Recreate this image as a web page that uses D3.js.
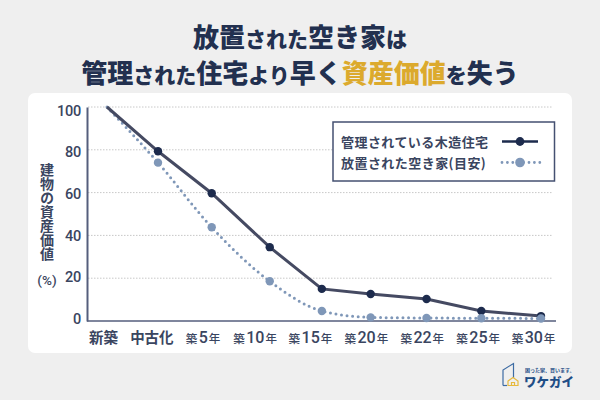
<!DOCTYPE html>
<html>
<head>
<meta charset="utf-8">
<script src="https://cdn.jsdelivr.net/npm/d3@7"></script>
<style>
  html, body { margin: 0; padding: 0; background: #efefef; }
  svg { display: block; }
  text { font-family: "Noto Sans CJK JP", sans-serif; }
  .num { font-family: "Roboto", "Noto Sans CJK JP", sans-serif; }
</style>
</head>
<body>
<div class="chart"></div>
<script>
// DATA
const CATEGORIES = ["新築", "中古化", "築5年", "築10年", "築15年", "築20年", "築22年", "築25年", "築30年"];
// the points are not evenly spaced in the picture, so keep their slots
const POINT_SLOTS = [0, 0.94, 1.93, 3, 3.96, 4.86, 5.89, 6.9, 8];
const LABEL_SLOTS = [0, 0.9, 1.85, 2.82, 3.85, 4.89, 5.93, 6.97, 8];
const MANAGED = [100, 79.3, 59.7, 34.5, 15, 12.6, 10.3, 4.7, 2.3];
const NEGLECTED = [100, 74, 43.8, 18.6, 4.7, 1.7, 1.4, 1.3, 1.2];
const Y_TICKS = [0, 20, 40, 60, 80, 100];
const SERIES_NAMES = ["管理されている木造住宅", "放置された空き家(目安)"];

// GLOBAL CONSTANTS
const FRAME_WIDTH = 600;
const FRAME_HEIGHT = 400;
const NAVY = "#22304f";
const TEXT_COL = "#3a4560";
const AXIS_COL = "#555e7c";
const LINE_COL = "#454a62";
const DOT_COL = "#7f97b8";

const FRAME = d3.select(".chart")
  .append("svg")
    .attr("width", FRAME_WIDTH)
    .attr("height", FRAME_HEIGHT);

FRAME.append("rect")
  .attr("width", FRAME_WIDTH).attr("height", FRAME_HEIGHT)
  .attr("fill", "#efefef");

FRAME.append("rect")
  .attr("x", 28).attr("y", 93)
  .attr("width", 544).attr("height", 260)
  .attr("rx", 7)
  .attr("fill", "#fff");

// TITLE
function titleLine(y, parts) {
  const t = FRAME.append("text")
    .attr("x", 300).attr("y", y)
    .attr("text-anchor", "middle")
    .attr("font-weight", 900);
  parts.forEach((p) => {
    t.append("tspan")
      .attr("font-size", p[1])
      .attr("fill", p[2] || NAVY)
      .text(p[0]);
  });
}
titleLine(47, [["放置", 26], ["された", 21], ["空き家", 26], ["は", 21]]);
titleLine(83, [["管理", 26], ["された", 21], ["住宅", 26], ["より", 21], ["早く", 26],
  ["資産価値", 26, "#dcaa2d"], ["を", 21], ["失う", 26]]);

// SCALES
const X_SCALE = d3.scaleLinear().domain([0, 8]).range([107, 541]);
const X_LABEL = d3.scaleLinear().domain([0, 8]).range([103, 533]);
const Y_SCALE = d3.scaleLinear().domain([0, 100]).range([321, 107]);
// tick labels sit a little tighter than the grid in the picture
const Y_LABEL = d3.scaleLinear().domain([0, 100]).range([319, 110.5]);

// GRID
FRAME.append("g")
  .selectAll("line")
  .data(Y_TICKS.filter((d) => d > 0))
  .enter()
  .append("line")
    .attr("x1", 88).attr("x2", 553)
    .attr("y1", (d) => Y_SCALE(d)).attr("y2", (d) => Y_SCALE(d))
    .attr("stroke", "#c8c8c8")
    .attr("stroke-width", 1)
    .attr("stroke-dasharray", "1.5 1.5");

// Y AXIS
const yAxis = FRAME.append("g")
  .attr("transform", "translate(87,0)")
  .call(d3.axisLeft(Y_SCALE).tickValues(Y_TICKS).tickSize(0).tickPadding(6));
yAxis.select(".domain").attr("stroke", AXIS_COL).attr("stroke-width", 2);
yAxis.selectAll("text")
  .attr("class", "num")
  .attr("font-size", 14.5)
  .attr("font-weight", 500)
  .attr("letter-spacing", "-0.2px")
  .attr("fill", TEXT_COL)
  .attr("y", (d) => Y_LABEL(d) - Y_SCALE(d));

// X AXIS
const xAxis = FRAME.append("g")
  .attr("transform", "translate(0,321)")
  .call(d3.axisBottom(X_LABEL).tickValues(LABEL_SLOTS).tickSize(0).tickPadding(0)
    .tickFormat(() => ""));
xAxis.select(".domain")
  .attr("d", "M87,0H556")
  .attr("stroke", AXIS_COL).attr("stroke-width", 1.5);
xAxis.selectAll(".tick text").each(function (d, i) {
  const label = d3.select(this)
    .attr("y", 22)
    .attr("dy", null)
    .attr("fill", TEXT_COL)
    .attr("font-weight", 700);
  const name = CATEGORIES[i];
  if (name.startsWith("築")) {
    label.append("tspan").attr("font-size", 11.5).attr("font-weight", 500).text("築");
    label.append("tspan").attr("class", "num").attr("font-size", 16).attr("font-weight", 500).attr("dx", 1.5)
      .text(name.slice(1, -1));
    label.append("tspan").attr("font-size", 11.5).attr("font-weight", 500).attr("dx", 1).text("年");
  } else {
    label.attr("font-size", 14.5).text(name);
  }
});

// Y LABEL
FRAME.append("text")
  .attr("x", 47).attr("y", 163)
  .attr("font-size", 14)
  .attr("font-weight", 700)
  .attr("fill", TEXT_COL)
  .style("writing-mode", "vertical-rl")
  .text("建物の資産価値");
FRAME.append("text")
  .attr("class", "num")
  .attr("x", 47).attr("y", 285)
  .attr("text-anchor", "middle")
  .attr("font-size", 13.5)
  .attr("font-weight", 500)
  .attr("fill", TEXT_COL)
  .text("(%)");

// LINES
const lineManaged = d3.line()
  .x((d, i) => X_SCALE(POINT_SLOTS[i]))
  .y((d) => Y_SCALE(d));
const lineNeglected = d3.line()
  .x((d, i) => X_SCALE(POINT_SLOTS[i]))
  .y((d) => Y_SCALE(d))
  .curve(d3.curveMonotoneX);

FRAME.append("path")
  .attr("d", lineNeglected(NEGLECTED))
  .attr("fill", "none")
  .attr("stroke", DOT_COL)
  .attr("stroke-width", 3)
  .attr("stroke-linecap", "round")
  .attr("stroke-dasharray", "0 5.6");

FRAME.append("path")
  .attr("d", lineManaged(MANAGED))
  .attr("fill", "none")
  .attr("stroke", LINE_COL)
  .attr("stroke-width", 3);

// POINTS (no marker on the first category)
FRAME.append("g")
  .selectAll("circle")
  .data(MANAGED.slice(1))
  .enter()
  .append("circle")
    .attr("cx", (d, i) => X_SCALE(POINT_SLOTS[i + 1]))
    .attr("cy", (d) => Y_SCALE(d))
    .attr("r", 4.2)
    .attr("fill", "#1d2b4d");

FRAME.append("g")
  .selectAll("circle")
  .data(NEGLECTED.slice(1))
  .enter()
  .append("circle")
    .attr("cx", (d, i) => X_SCALE(POINT_SLOTS[i + 1]))
    .attr("cy", (d) => Y_SCALE(d))
    .attr("r", 4.2)
    .attr("fill", DOT_COL);

// LEGEND
const LEGEND = FRAME.append("g");
LEGEND.append("rect")
  .attr("x", 333).attr("y", 122)
  .attr("width", 221.5).attr("height", 59)
  .attr("fill", "#fff")
  .attr("stroke", "#445071")
  .attr("stroke-width", 1.5);

LEGEND.selectAll("text")
  .data(SERIES_NAMES)
  .enter()
  .append("text")
    .attr("x", 341)
    .attr("y", (d, i) => 147 + i * 21)
    .attr("font-size", 13)
    .attr("font-weight", 700)
    .attr("letter-spacing", "0.45px")
    .attr("fill", TEXT_COL)
    .text((d) => d);

LEGEND.append("line")
  .attr("x1", 502).attr("x2", 538)
  .attr("y1", 141.5).attr("y2", 141.5)
  .attr("stroke", "#1d2b4d").attr("stroke-width", 2.6);
LEGEND.append("circle")
  .attr("cx", 520).attr("cy", 141.5).attr("r", 4.4)
  .attr("fill", "#1d2b4d");
LEGEND.append("line")
  .attr("x1", 502).attr("x2", 540)
  .attr("y1", 162.5).attr("y2", 162.5)
  .attr("stroke", DOT_COL).attr("stroke-width", 2.8)
  .attr("stroke-linecap", "round")
  .attr("stroke-dasharray", "0 5.4");
LEGEND.append("circle")
  .attr("cx", 520).attr("cy", 162.5).attr("r", 4.8)
  .attr("fill", DOT_COL);

// LOGO
const LOGO = FRAME.append("g");
LOGO.append("path")
  .attr("d", "M503,385.5V370L513.5,363.5V378")
  .attr("fill", "none")
  .attr("stroke", "#3d6ba3")
  .attr("stroke-width", 1.2);
LOGO.append("path")
  .attr("d", "M503,385.5H507")
  .attr("stroke", "#3d6ba3")
  .attr("stroke-width", 1.2);
LOGO.append("path")
  .attr("d", "M508,385.5V381L513,377.5L518,381V385.5ZM511.5,385.5V382.5H514.5V385.5")
  .attr("fill", "none")
  .attr("stroke", "#e6b93c")
  .attr("stroke-width", 1.2);
LOGO.append("text")
  .attr("x", 525).attr("y", 372)
  .attr("font-size", 5)
  .attr("font-weight", 700)
  .attr("fill", "#1f4e86")
  .text("困った家、買います。");
LOGO.append("text")
  .attr("x", 524).attr("y", 387)
  .attr("font-size", 12.5)
  .attr("font-weight", 900)
  .attr("fill", "#1f4e86")
  .text("ワケガイ");
</script>
</body>
</html>
